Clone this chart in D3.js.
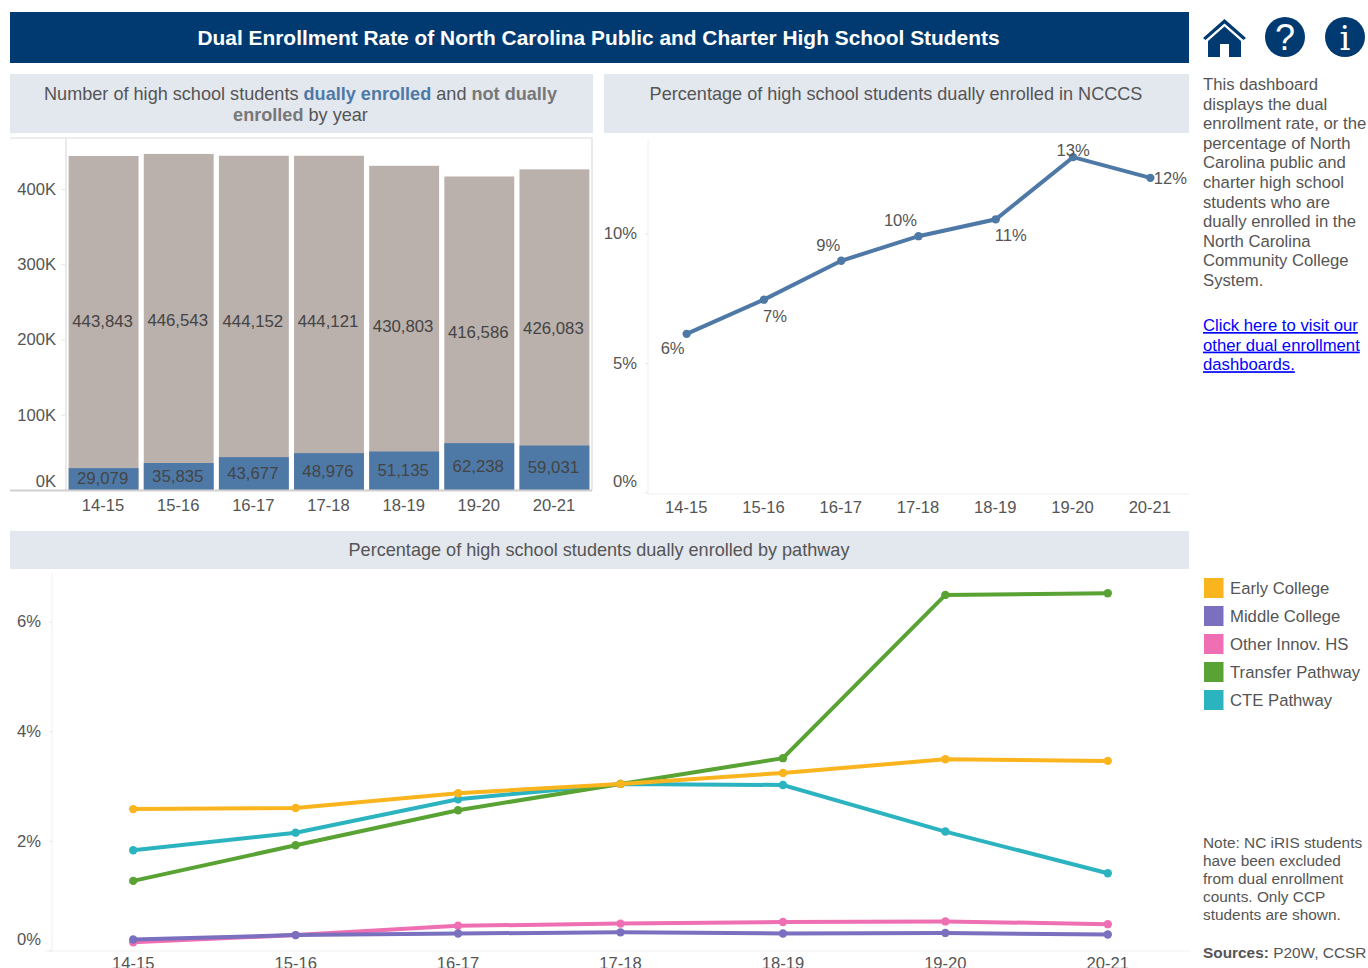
<!DOCTYPE html>
<html>
<head>
<meta charset="utf-8">
<script src="https://cdnjs.cloudflare.com/ajax/libs/d3/7.8.5/d3.min.js"></script>
<style>
  html, body { margin: 0; padding: 0; background: #fff; overflow: hidden; }
  svg { display: block; }
  text { font-family: "Liberation Sans", Arial, sans-serif; fill: #555; }
  .tick text { font-size: 16.6px; fill: #555; }
  .panel-title { font-size: 18.1px; fill: #555; }
</style>
</head>
<body>
<svg width="1368" height="968"></svg>
<script>
var years = ["14-15", "15-16", "16-17", "17-18", "18-19", "19-20", "20-21"]

// bar chart
var notEnrolled = [443843, 446543, 444152, 444121, 430803, 416586, 426083]
var enrolled = [29079, 35835, 43677, 48976, 51135, 62238, 59031]
var countTicks = [0, 100000, 200000, 300000, 400000]

// overall rate line
var rate = [6.18, 7.5, 9.0, 9.95, 10.6, 13.0, 12.2]
var rateLabels = ["6%", "7%", "9%", "10%", "11%", "13%", "12%"]
var rateTicks = [0, 5, 10]

// pathway lines
var pathways = ["Early College", "Middle College", "Other Innov. HS", "Transfer Pathway", "CTE Pathway"]
var pathwayColors = ["#fab41e", "#7a70bf", "#ee6fb2", "#58a333", "#2bb3c0"]
var earlyCollege = [2.59, 2.61, 2.88, 3.05, 3.25, 3.50, 3.47]
var middleCollege = [0.21, 0.29, 0.32, 0.34, 0.32, 0.33, 0.30]
var otherInnov = [0.16, 0.29, 0.46, 0.50, 0.53, 0.54, 0.49]
var transfer = [1.28, 1.93, 2.57, 3.05, 3.52, 6.50, 6.53]
var cte = [1.84, 2.16, 2.77, 3.05, 3.03, 2.18, 1.42]
var pathwayTicks = [0, 2, 4, 6]

var sideText = ["This dashboard", "displays the dual", "enrollment rate, or the", "percentage of North",
  "Carolina public and", "charter high school", "students who are", "dually enrolled in the",
  "North Carolina", "Community College", "System."]
var linkText = ["Click here to visit our", "other dual enrollment", "dashboards."]
var noteText = ["Note: NC iRIS students", "have been excluded", "from dual enrollment", "counts. Only CCP", "students are shown."]

var navy = "#003a70", headerFill = "#e3e7ee", lineBlue = "#4e79a7", gray = "#bab0ac", rule = "#e6e6e6"
var fmt = d3.format(",")
var svg = d3.select("svg")

// header bands
svg.append("rect").attr("x", 10).attr("y", 12).attr("width", 1179).attr("height", 51).attr("fill", navy)
svg.append("text").attr("x", 598.5).attr("y", 45).attr("text-anchor", "middle")
  .style("font-size", "20.9px").style("font-weight", "bold").style("fill", "#fff")
  .text("Dual Enrollment Rate of North Carolina Public and Charter High School Students")

svg.append("rect").attr("x", 10).attr("y", 74).attr("width", 583).attr("height", 59).attr("fill", headerFill)
svg.append("rect").attr("x", 604).attr("y", 74).attr("width", 585).attr("height", 59).attr("fill", headerFill)
svg.append("rect").attr("x", 10).attr("y", 531).attr("width", 1179).attr("height", 38).attr("fill", headerFill)

var t1 = svg.append("text").attr("class", "panel-title").attr("x", 300.5).attr("y", 99.5).attr("text-anchor", "middle")
t1.append("tspan").text("Number of high school students ")
t1.append("tspan").style("fill", lineBlue).style("font-weight", "bold").text("dually enrolled")
t1.append("tspan").text(" and ")
t1.append("tspan").style("fill", "#777").style("font-weight", "bold").text("not dually")
var t1b = svg.append("text").attr("class", "panel-title").attr("x", 300.5).attr("y", 121).attr("text-anchor", "middle")
t1b.append("tspan").style("fill", "#777").style("font-weight", "bold").text("enrolled")
t1b.append("tspan").text(" by year")

svg.append("text").attr("class", "panel-title").attr("x", 896).attr("y", 99.5).attr("text-anchor", "middle")
  .text("Percentage of high school students dually enrolled in NCCCS")
svg.append("text").attr("class", "panel-title").attr("x", 599).attr("y", 556).attr("text-anchor", "middle")
  .text("Percentage of high school students dually enrolled by pathway")

function styleAxis(g) {
  g.selectAll(".domain").attr("stroke", rule)
  g.selectAll(".tick line").attr("stroke", rule)
}

// bars
var barX = d3.scaleBand().domain(years).range([66, 592]).paddingInner(0.07).paddingOuter(0.035)
var barY = d3.scaleLinear().domain([0, 470000]).range([490, 136.3])

svg.append("path").attr("d", "M10,138H592V490M66,138V490").attr("fill", "none").attr("stroke", "#dcdcdc").attr("stroke-width", 1.2)

svg.selectAll(".bar-total").data(notEnrolled).enter().append("rect")
  .attr("class", "bar-total")
  .attr("x", (d, i) => barX(years[i]))
  .attr("width", barX.bandwidth())
  .attr("y", d => barY(d))
  .attr("height", d => barY(0) - barY(d))
  .attr("fill", gray)

svg.selectAll(".bar-dual").data(enrolled).enter().append("rect")
  .attr("class", "bar-dual")
  .attr("x", (d, i) => barX(years[i]))
  .attr("width", barX.bandwidth())
  .attr("y", d => barY(d))
  .attr("height", d => barY(0) - barY(d))
  .attr("fill", lineBlue)

svg.selectAll(".lab-total").data(notEnrolled).enter().append("text")
  .attr("x", (d, i) => barX(years[i]) + barX.bandwidth() / 2 - 1)
  .attr("y", d => barY(d / 2) + 4.5)
  .attr("text-anchor", "middle")
  .style("font-size", "16.8px").style("fill", "#444")
  .text(d => fmt(d))

svg.selectAll(".lab-dual").data(enrolled).enter().append("text")
  .attr("x", (d, i) => barX(years[i]) + barX.bandwidth() / 2 - 1)
  .attr("y", d => barY(d / 2) + 5)
  .attr("text-anchor", "middle")
  .style("font-size", "16.8px").style("fill", "#444")
  .text(d => fmt(d))

var barAxisY = svg.append("g").attr("transform", "translate(65,0)")
  .call(d3.axisLeft(barY).tickValues(countTicks).tickFormat(d => d / 1000 + "K").tickSize(4).tickPadding(5))
barAxisY.call(styleAxis)
barAxisY.select(".domain").remove()
barAxisY.selectAll(".tick").filter(d => d === 0).select("text").attr("dy", "-0.22em")

var barAxisX = svg.append("g").attr("transform", "translate(-0.5,490)")
  .call(d3.axisBottom(barX).tickSize(0).tickPadding(9.5))
barAxisX.call(styleAxis)
barAxisX.select(".domain").remove()
svg.append("line").attr("x1", 10).attr("x2", 592).attr("y1", 490.5).attr("y2", 490.5).attr("stroke", "#d0d0d0").attr("stroke-width", 2)

// overall rate
var rateX = d3.scalePoint().domain(years).range([648, 1189]).padding(0.5)
var rateY = d3.scaleLinear().domain([0, 13.7]).range([494, 139])
var line = d3.line().x((d, i) => rateX(years[i])).y(d => rateY(d))
var labelOffsetX = [-14, 11, -13, -18, 15, 0, 20]
var labelOffsetY = [14, 16, -16, -16, 16, -7, 0]

svg.append("line").attr("x1", 648).attr("x2", 648).attr("y1", 139).attr("y2", 494).attr("stroke", "#f0f0f0")
svg.append("line").attr("x1", 648).attr("x2", 1189).attr("y1", 494).attr("y2", 494).attr("stroke", "#f0f0f0")

var rateAxisY = svg.append("g").attr("transform", "translate(648,-1.5)")
  .call(d3.axisLeft(rateY).tickValues(rateTicks).tickFormat(d => d + "%").tickSize(3).tickPadding(8))
rateAxisY.call(styleAxis)
rateAxisY.select(".domain").remove()
rateAxisY.selectAll(".tick").filter(d => d === 0).select("text").attr("dy", "-0.35em")

var rateAxisX = svg.append("g").attr("transform", "translate(-1,494)")
  .call(d3.axisBottom(rateX).tickSize(0).tickPadding(7.5))
rateAxisX.call(styleAxis)
rateAxisX.select(".domain").remove()

svg.append("path").datum(rate).attr("d", line).attr("fill", "none").attr("stroke", lineBlue).attr("stroke-width", 4)
svg.selectAll(".rate-dot").data(rate).enter().append("circle")
  .attr("cx", (d, i) => rateX(years[i])).attr("cy", d => rateY(d)).attr("r", 4.2).attr("fill", lineBlue)
svg.selectAll(".rate-label").data(rate).enter().append("text")
  .attr("x", (d, i) => rateX(years[i]) + labelOffsetX[i])
  .attr("y", (d, i) => rateY(d) + labelOffsetY[i] + 6)
  .attr("text-anchor", "middle")
  .style("font-size", "16.6px")
  .text((d, i) => rateLabels[i])

// pathways
var pathX = d3.scalePoint().domain(years).range([52, 1189]).padding(0.5)
var pathY = d3.scaleLinear().domain([0, 6.9]).range([951, 573])
var pathLine = d3.line().x((d, i) => pathX(years[i])).y(d => pathY(d))

svg.append("line").attr("x1", 52).attr("x2", 52).attr("y1", 573).attr("y2", 951).attr("stroke", "#f0f0f0")
svg.append("line").attr("x1", 45).attr("x2", 1189).attr("y1", 951).attr("y2", 951).attr("stroke", "#f0f0f0")

var pathAxisY = svg.append("g").attr("transform", "translate(52,-0.7)")
  .call(d3.axisLeft(pathY).tickValues(pathwayTicks).tickFormat(d => d + "%").tickSize(3).tickPadding(8))
pathAxisY.call(styleAxis)
pathAxisY.select(".domain").remove()
pathAxisY.selectAll(".tick").filter(d => d === 0).select("text").attr("dy", "-0.35em")

var pathAxisX = svg.append("g").attr("transform", "translate(-0.5,951)")
  .call(d3.axisBottom(pathX).tickSize(0).tickPadding(6.5))
pathAxisX.call(styleAxis)
pathAxisX.select(".domain").remove()

// draw order keeps Early College on top, as in the original
var drawOrder = [
  [cte, pathwayColors[4]],
  [transfer, pathwayColors[3]],
  [otherInnov, pathwayColors[2]],
  [middleCollege, pathwayColors[1]],
  [earlyCollege, pathwayColors[0]]
]
drawOrder.forEach(s => {
  svg.append("path").datum(s[0]).attr("d", pathLine).attr("fill", "none").attr("stroke", s[1]).attr("stroke-width", 4)
  svg.selectAll(null).data(s[0]).enter().append("circle")
    .attr("cx", (d, i) => pathX(years[i])).attr("cy", d => pathY(d)).attr("r", 4.2).attr("fill", s[1])
})

// legend
pathways.forEach((p, i) => {
  svg.append("rect").attr("x", 1204).attr("y", 578 + i * 28).attr("width", 19.5).attr("height", 20).attr("fill", pathwayColors[i])
  svg.append("text").attr("x", 1230).attr("y", 594 + i * 28).style("font-size", "16.7px").text(p)
})

// side column
svg.selectAll(".side").data(sideText).enter().append("text")
  .attr("x", 1203).attr("y", (d, i) => 90 + i * 19.6).style("font-size", "16.7px").text(d => d)
svg.selectAll(".link").data(linkText).enter().append("text")
  .attr("x", 1203).attr("y", (d, i) => 331 + i * 19.6)
  .style("font-size", "16.7px").style("fill", "#0000ff").style("text-decoration", "underline").text(d => d)
svg.selectAll(".note").data(noteText).enter().append("text")
  .attr("x", 1203).attr("y", (d, i) => 848 + i * 18.1).style("font-size", "15.4px").text(d => d)
var src = svg.append("text").attr("x", 1203).attr("y", 958).style("font-size", "15.4px")
src.append("tspan").style("font-weight", "bold").text("Sources:")
src.append("tspan").text(" P20W, CCSR")

// icons
svg.append("path")
  .attr("d", "M1203,38L1224.5,19L1246,38L1243.5,40L1224.5,23.5L1205.5,40Z M1208,41L1224.5,26.5L1241,41V57H1229V44H1220V57H1208Z")
  .attr("fill", navy)
svg.append("circle").attr("cx", 1285).attr("cy", 37).attr("r", 20).attr("fill", navy)
svg.append("text").attr("x", 1285).attr("y", 50).attr("text-anchor", "middle")
  .style("font-size", "36px").style("fill", "#fff").text("?")
svg.append("circle").attr("cx", 1345).attr("cy", 37).attr("r", 20).attr("fill", navy)
svg.append("text").attr("x", 1345).attr("y", 50).attr("text-anchor", "middle")
  .style("font-family", "'DejaVu Serif', serif").style("font-size", "34px").style("fill", "#fff").text("i")
</script>
</body>
</html>
